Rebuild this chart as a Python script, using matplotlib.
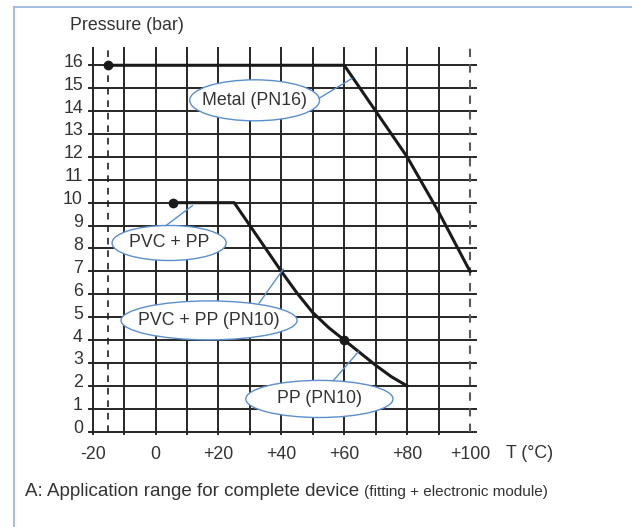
import matplotlib
matplotlib.use("Agg")
import matplotlib.pyplot as plt
from matplotlib.patches import Ellipse
from matplotlib.transforms import ScaledTranslation

plt.rcParams['font.family'] = ['Liberation Sans', 'DejaVu Sans']

# ---- data ----
x_ticks = [-20, 0, 20, 40, 60, 80, 100]
x_tick_labels = ['-20', '0', '+20', '+40', '+60', '+80', '+100']
y_ticks = list(range(0, 17))

metal_T = [-15, 60, 70, 80, 90, 100]
metal_P = [16, 16, 14, 12, 9.6, 7]

pvc_T = [5.5, 25, 30, 35, 40, 45, 50, 55, 60, 65, 70, 75, 80]
pvc_P = [10, 10, 9, 8, 7, 6.05, 5.2, 4.55, 4.0, 3.45, 2.9, 2.4, 2.0]

dots_T = [-15, 5.5, 60]
dots_P = [16, 10, 4]

range_limits_T = [-15, 100]

labels = ['Metal (PN16)', 'PVC + PP', 'PVC + PP (PN10)', 'PP (PN10)']
label_center = [(31.5, 14.47), (4.3, 8.24), (17.0, 4.86), (52.1, 1.43)]
label_size = [(41.3, 1.79), (36.3, 1.53), (56.0, 1.70), (46.8, 1.62)]
leader_from = [(52.0, 14.56), (3.3, 9.0), (32.9, 5.61), (56.5, 2.23)]
leader_to = [(62.4, 15.42), (11.7, 9.87), (40.6, 7.1), (64.5, 3.49)]

# ---- figure ----
W, H = 632, 527
fig = plt.figure(figsize=(W / 100, H / 100), dpi=100)
ax = fig.add_axes([92.7 / W, (H - 431.7) / H, 383.6 / W, 383.6 / H])
ax.set_xlim(-20, 102)
ax.set_ylim(0, 16.75)
for s in ax.spines.values():
    s.set_visible(False)

grid_c = '#262626'
text_c = '#333333'
blue = '#5b8fcc'

# grid
for xv in range(-20, 100, 10):
    ax.plot([xv, xv], [-0.12, 16.75], color=grid_c, lw=1.4, clip_on=False, zorder=1)
for yv in y_ticks:
    ax.plot([-21.2, 102], [yv, yv], color=grid_c, lw=1.4, clip_on=False, zorder=1)

# range limits (dashed)
ax.plot([range_limits_T[0]] * 2, [0, 16.75], color='#1f1f1f', lw=1.2,
        dashes=(4, 3.5), zorder=2, clip_on=False)
ax.plot([range_limits_T[1]] * 2, [0, 16.75], color='#5a5a5a', lw=1.5,
        dashes=(4, 3.5), zorder=2, clip_on=False)

# curves
ax.plot(metal_T, metal_P, color='#1a1a1a', lw=2.2, zorder=4, clip_on=False)
ax.plot(pvc_T, pvc_P, color='#1a1a1a', lw=2.2, zorder=4, clip_on=False)
ax.plot(dots_T, dots_P, 'o', color='#1a1a1a', ms=6, zorder=5, clip_on=False)

# labels with ellipses
for lab, c, sz, f, t in zip(labels, label_center, label_size, leader_from, leader_to):
    e = Ellipse(c, sz[0], sz[1], facecolor='white', edgecolor=blue, lw=1.0, zorder=6)
    ax.add_patch(e)
    ax.plot([f[0], t[0]], [f[1], t[1]], color=blue, lw=1.0, zorder=6)
    ax.text(c[0], c[1], lab, ha='center', va='center', fontsize=12.8,
            color=text_c, zorder=7)

# ticks
ax.set_xticks(x_ticks)
ax.set_xticklabels(x_tick_labels)
ax.set_yticks(y_ticks)
ax.set_yticklabels([str(v) for v in y_ticks])
ax.tick_params(axis='both', length=0, labelsize=12.8, labelcolor=text_c)
ax.tick_params(axis='x', pad=10)
ax.tick_params(axis='y', pad=7)
off = ScaledTranslation(0, 5 / 100, fig.dpi_scale_trans)
for lbl in ax.get_yticklabels():
    lbl.set_transform(lbl.get_transform() + off)

# axis titles
fig.text(70 / W, 1 - 26 / H, 'Pressure (bar)', ha='left', va='center',
         fontsize=12.8, color=text_c)
fig.text(506 / W, 1 - 453 / H, 'T (°C)', ha='left', va='center',
         fontsize=12.8, color=text_c)

# footnote
t1 = fig.text(25 / W, 1 - 492 / H, 'A: Application range for complete device ',
              ha='left', va='center', fontsize=13.5, color=text_c)
fig.canvas.draw()
bb = t1.get_window_extent()
fig.text(bb.x1 / W, 1 - 492 / H, '(fitting + electronic module)', ha='left',
         va='center', fontsize=11, color=text_c)

# frame (top and left)
fig.add_artist(plt.Line2D([14 / W, 1], [1 - 7 / H, 1 - 7 / H],
                          color='#9ab7dc', lw=1.3))
fig.add_artist(plt.Line2D([14 / W, 14 / W], [0, 1 - 7 / H],
                          color='#9ab7dc', lw=1.3))

fig.savefig('out.png', dpi=100)
